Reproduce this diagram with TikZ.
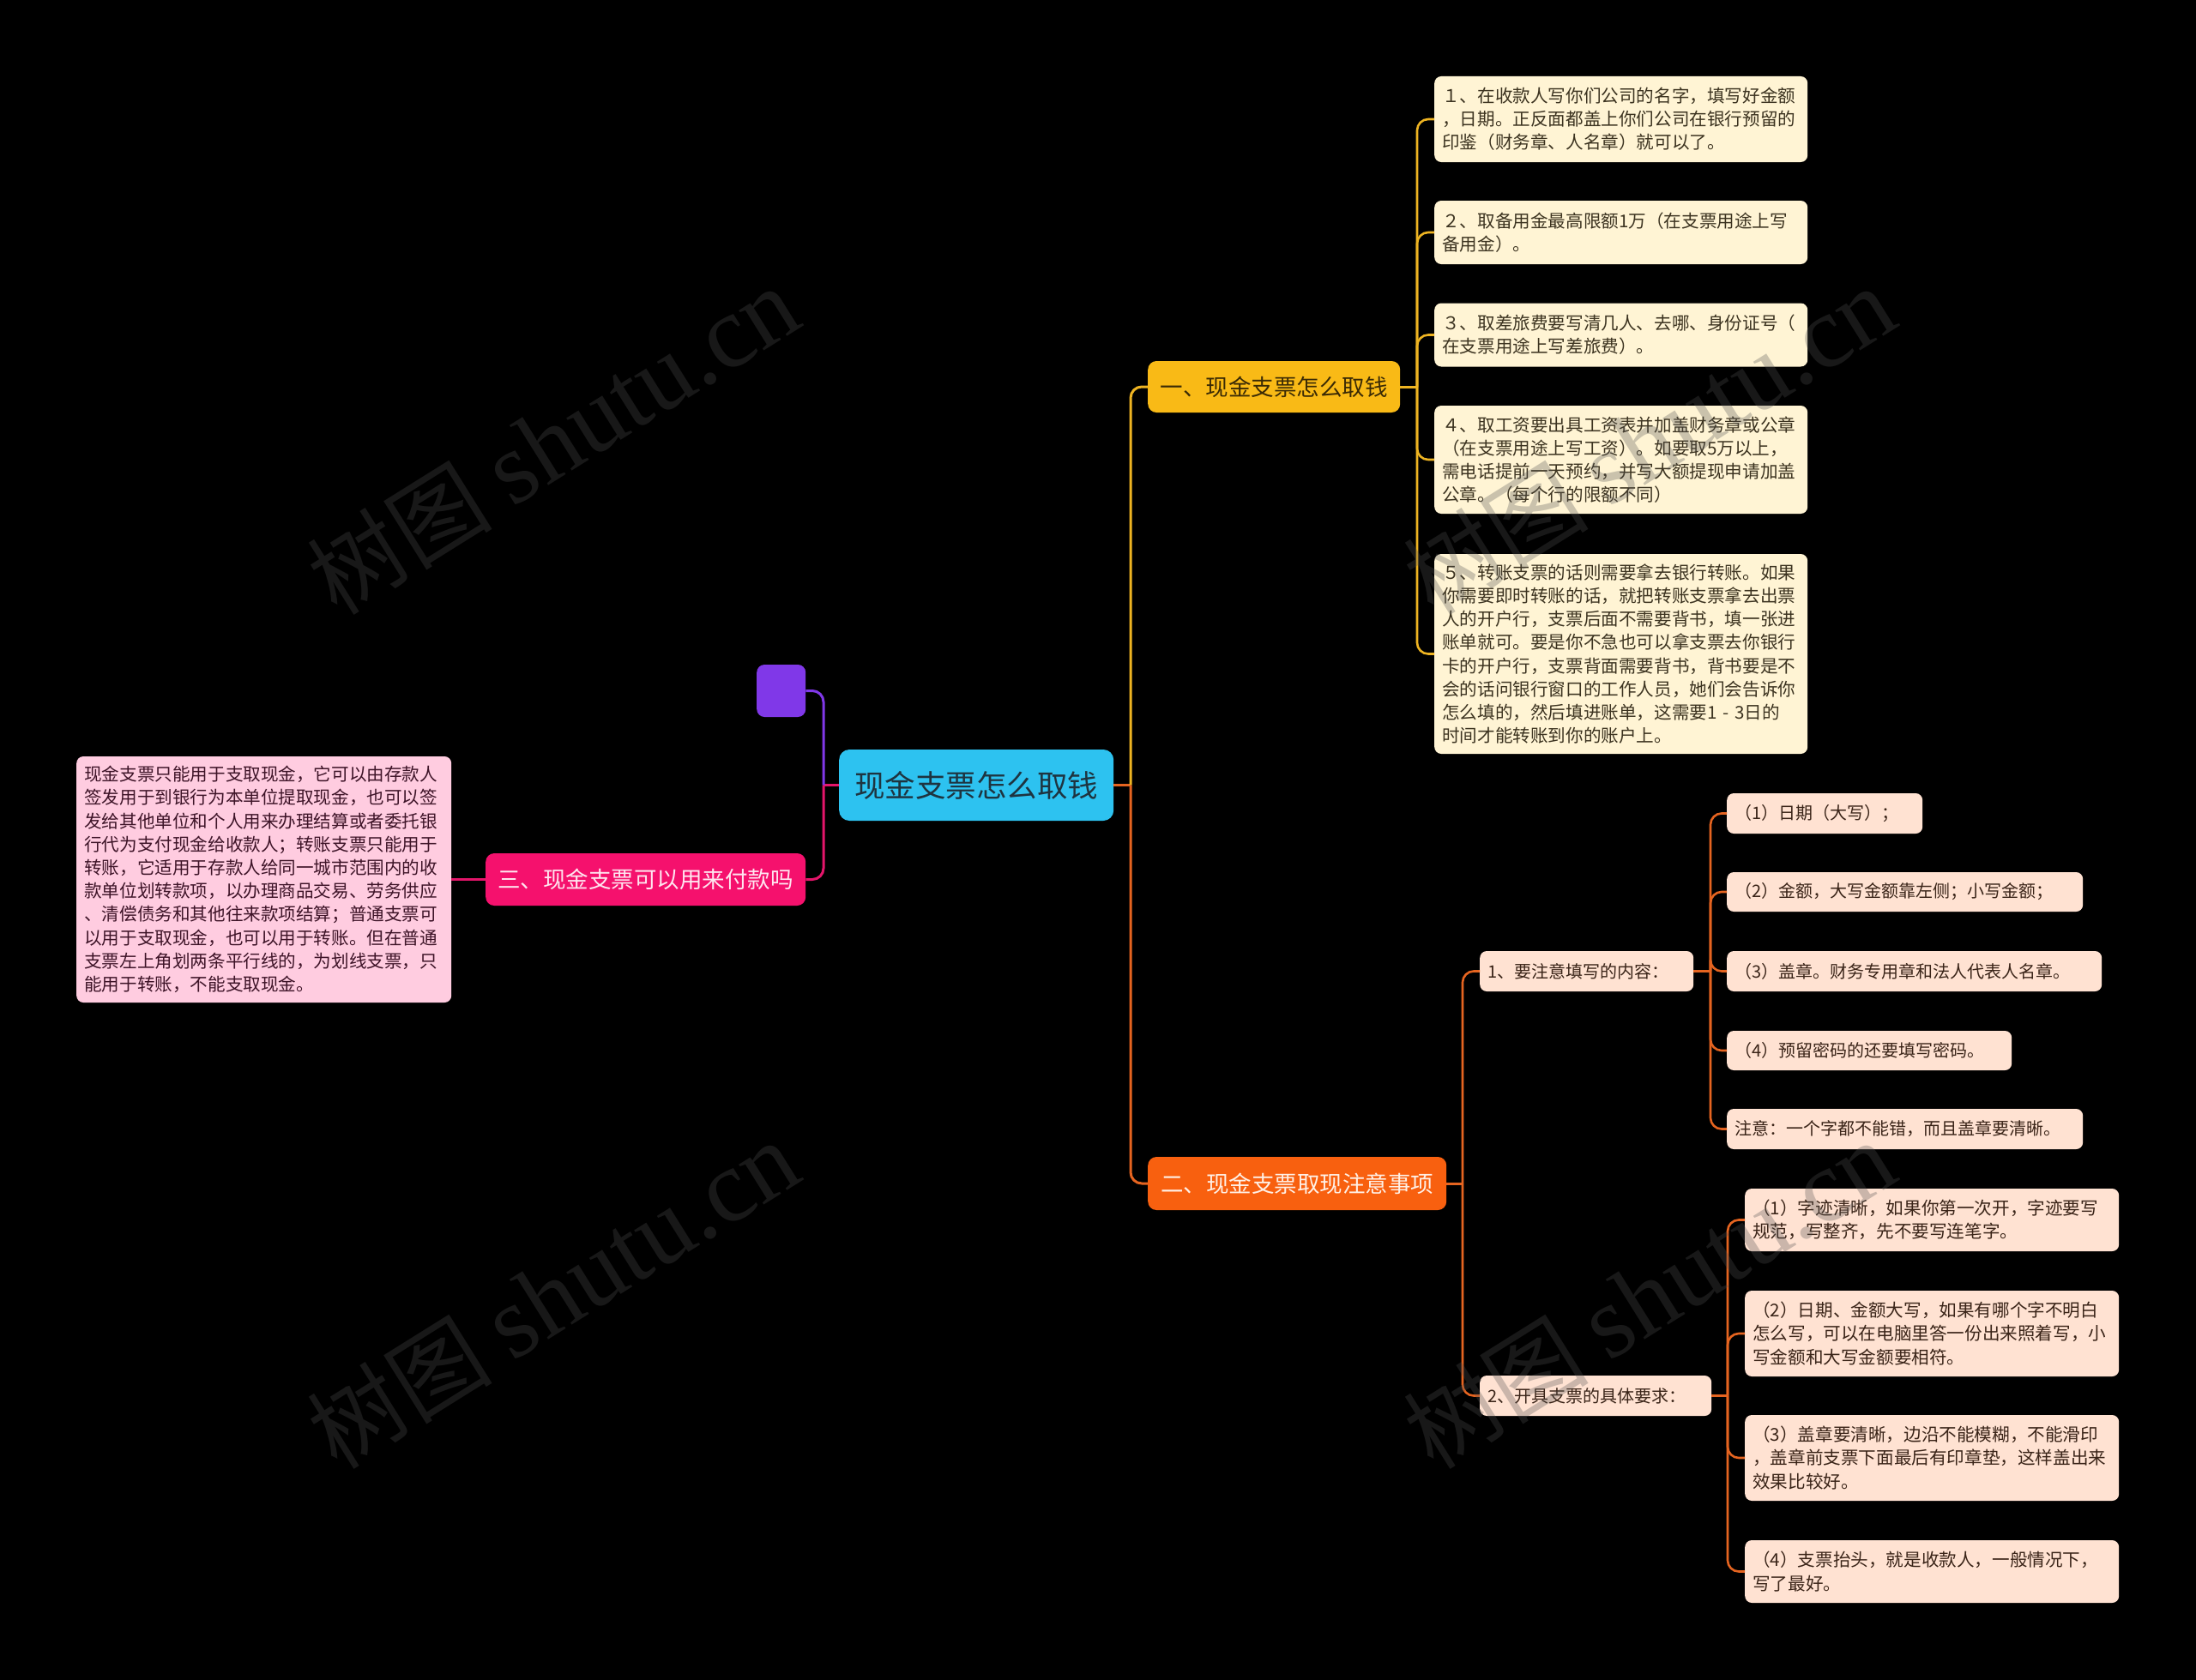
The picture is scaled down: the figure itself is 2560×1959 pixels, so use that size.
\documentclass[tikz,border=0pt]{standalone}
\usepackage{fontspec}
\setmainfont{Noto Sans CJK SC}
\newfontfamily\wmlatin{Liberation Serif}
\newfontfamily\wmcjk{Noto Sans CJK SC}
\definecolor{bgc}{HTML}{000000}
\definecolor{rootc}{HTML}{2DC2F0}
\definecolor{roottxt}{HTML}{1E3440}
\definecolor{purplec}{HTML}{8038E8}
\definecolor{pinkc}{HTML}{F5116D}
\definecolor{pinktxt}{HTML}{FFE6F0}
\definecolor{pinkline}{HTML}{E4156A}
\definecolor{pinkleafc}{HTML}{FFCCE0}
\definecolor{pinkleaftxt}{HTML}{3E1428}
\definecolor{yellowc}{HTML}{F9BA16}
\definecolor{yellowtxt}{HTML}{3A2A05}
\definecolor{yellowline}{HTML}{EEB422}
\definecolor{yleafc}{HTML}{FFF4D4}
\definecolor{yleaftxt}{HTML}{3C3320}
\definecolor{orangec}{HTML}{F8600F}
\definecolor{orangetxt}{HTML}{FFF0E6}
\definecolor{orangeline}{HTML}{E56420}
\definecolor{oleafc}{HTML}{FFE2D2}
\definecolor{oleaftxt}{HTML}{3A2418}
\definecolor{wmc}{HTML}{505050}
\newcommand\leaffont{\fontsize{20.6}{27.2}\selectfont}
\newcommand\oleaffont{\fontsize{20}{27.2}\selectfont}
\newcommand\branchfont{\fontsize{26.5}{30}\selectfont}
\newcommand\rootfont{\fontsize{35.5}{40}\selectfont}
\newcommand\wmtext{\wmcjk\fontsize{108}{118}\selectfont 树图\ \wmlatin\fontsize{120}{130}\selectfont shutu.cn}
\begin{document}
\begin{tikzpicture}[x=1pt,y=-1pt,
  boxbase/.style={anchor=west, inner ysep=0pt, inner xsep=9pt, align=left},
  yleaf/.style={boxbase, rounded corners=8pt, fill=yleafc, text=yleaftxt, font=\leaffont},
  pleaf/.style={boxbase, rounded corners=8pt, fill=pinkleafc, text=pinkleaftxt, font=\leaffont},
  oleaf/.style={boxbase, rounded corners=8pt, fill=oleafc, text=oleaftxt, font=\oleaffont},
  oleafb/.style={boxbase, rounded corners=8pt, fill=oleafc, text=oleaftxt, font=\leaffont},
  branchbox/.style={anchor=west, inner sep=0pt, align=center, rounded corners=10pt, font=\branchfont},
  conn/.style={line width=3pt, rounded corners=13pt},
  wm/.style={text=wmc, text opacity=0.3, rotate=32, inner sep=0pt}
]
\fill[bgc] (0,0) rectangle (2560,1959);
\useasboundingbox (0,0) rectangle (2560,1959);

% root and first-level nodes
\node[branchbox, rounded corners=12pt, fill=rootc, text=roottxt, font=\rootfont,
      minimum width=320pt, minimum height=83pt] (root) at (978,915.5) {现金支票怎么取钱};
\node[anchor=west, inner sep=0pt, fill=purplec, rounded corners=9pt,
      minimum width=57pt, minimum height=61pt] (purple) at (882,805.5) {};
\node[branchbox, fill=pinkc, text=pinktxt, minimum width=373pt, minimum height=61pt]
      (pinkb) at (566,1025.5) {三、现金支票可以用来付款吗};
\node[branchbox, fill=yellowc, text=yellowtxt, minimum width=294pt, minimum height=60pt]
      (yb) at (1338,451) {一、现金支票怎么取钱};
\node[branchbox, fill=orangec, text=orangetxt, minimum width=348pt, minimum height=62pt]
      (ob) at (1338,1380) {二、现金支票取现注意事项};

% pink leaf
\node[pleaf, text width=419pt, minimum height=287pt] (pleaf) at (89,1025.5)
{现金支票只能用于支取现金，它可以由存款人\\
签发用于到银行为本单位提取现金，也可以签\\
发给其他单位和个人用来办理结算或者委托银\\
行代为支付现金给收款人；转账支票只能用于\\
转账，它适用于存款人给同一城市范围内的收\\
款单位划转款项，以办理商品交易、劳务供应\\
、清偿债务和其他往来款项结算；普通支票可\\
以用于支取现金，也可以用于转账。但在普通\\
支票左上角划两条平行线的，为划线支票，只\\
能用于转账，不能支取现金。};

% yellow leaves
\node[yleaf, text width=417pt, minimum height=100pt] (y1) at (1672,139)
{１、在收款人写你们公司的名字，填写好金额\\
，日期。正反面都盖上你们公司在银行预留的\\
印鉴（财务章、人名章）就可以了。};
\node[yleaf, text width=417pt, minimum height=74pt] (y2) at (1672,271)
{２、取备用金最高限额1万（在支票用途上写\\
备用金）。};
\node[yleaf, text width=417pt, minimum height=74pt] (y3) at (1672,390.5)
{３、取差旅费要写清几人、去哪、身份证号（\\
在支票用途上写差旅费）。};
\node[yleaf, text width=417pt, minimum height=126pt] (y4) at (1672,536)
{４、取工资要出具工资表并加盖财务章或公章\\
（在支票用途上写工资）。如要取5万以上，\\
需电话提前一天预约，并写大额提现申请加盖\\
公章。（每个行的限额不同）};
\node[yleaf, text width=417pt, minimum height=233pt] (y5) at (1672,762.5)
{５、转账支票的话则需要拿去银行转账。如果\\
你需要即时转账的话，就把转账支票拿去出票\\
人的开户行，支票后面不需要背书，填一张进\\
账单就可。要是你不急也可以拿支票去你银行\\
卡的开户行，支票背面需要背书，背书要是不\\
会的话问银行窗口的工作人员，她们会告诉你\\
怎么填的，然后填进账单，这需要1 - 3日的\\
时间才能转账到你的账户上。};

% orange second level
\node[oleaf, text width=231pt, minimum height=47pt] (o1) at (1725,1132.5) {1、要注意填写的内容：};
\node[oleaf, text width=252pt, minimum height=47pt] (o2) at (1725,1627.5) {2、开具支票的具体要求：};

% orange group 1 leaves
\node[oleaf, text width=210pt, minimum height=47pt] (o11) at (2013,948.5) {（1）日期（大写）；};
\node[oleaf, text width=397pt, minimum height=46pt] (o12) at (2013,1040) {（2）金额，大写金额靠左侧；小写金额；};
\node[oleaf, text width=419pt, minimum height=47pt] (o13) at (2013,1132.5) {（3）盖章。财务专用章和法人代表人名章。};
\node[oleaf, text width=314pt, minimum height=46pt] (o14) at (2013,1225) {（4）预留密码的还要填写密码。};
\node[oleaf, text width=397pt, minimum height=47pt] (o15) at (2013,1316.5) {注意：一个字都不能错，而且盖章要清晰。};

% orange group 2 leaves
\node[oleafb, text width=418pt, minimum height=73pt] (o21) at (2034,1422.5)
{（1）字迹清晰，如果你第一次开，字迹要写\\
规范，写整齐，先不要写连笔字。};
\node[oleafb, text width=418pt, minimum height=100pt] (o22) at (2034,1555)
{（2）日期、金额大写，如果有哪个字不明白\\
怎么写，可以在电脑里答一份出来照着写，小\\
写金额和大写金额要相符。};
\node[oleafb, text width=418pt, minimum height=100pt] (o23) at (2034,1700)
{（3）盖章要清晰，边沿不能模糊，不能滑印\\
，盖章前支票下面最后有印章垫，这样盖出来\\
效果比较好。};
\node[oleafb, text width=418pt, minimum height=73pt] (o24) at (2034,1832.5)
{（4）支票抬头，就是收款人，一般情况下，\\
写了最好。};

% junction points
\coordinate (jL) at (960,915.5);
\coordinate (jR) at (1318,915.5);
\coordinate (jY) at (1652,451);
\coordinate (jO) at (1705,1380);
\coordinate (jO1) at (1994,1132.5);
\coordinate (jO2) at (2014,1627.5);

% connectors left
\draw[conn, draw=pinkline] (root.west) -- (jL);
\draw[conn, draw=purplec] (jL) |- (purple.east);
\draw[conn, draw=pinkline] (jL) |- (pinkb.east);
\draw[conn, draw=pinkline] (pinkb.west) -- (pleaf.east);

% connectors right
\draw[conn, draw=orangeline] (root.east) -- (jR);
\draw[conn, draw=yellowline] (jR) |- (yb.west);
\draw[conn, draw=orangeline] (jR) |- (ob.west);
\draw[conn, draw=yellowline] (yb.east) -- (jY);
\foreach \n in {y1,y2,y3,y4,y5} \draw[conn, line width=2.6pt, draw=yellowline] (jY) |- (\n.west);
\draw[conn, draw=orangeline] (ob.east) -- (jO);
\draw[conn, line width=2.6pt, draw=orangeline] (jO) |- (o1.west);
\draw[conn, line width=2.6pt, draw=orangeline] (jO) |- (o2.west);
\draw[conn, line width=2.6pt, draw=orangeline] (o1.east) -- (jO1);
\foreach \n in {o11,o12,o13,o14,o15} \draw[conn, line width=2.6pt, draw=orangeline] (jO1) |- (\n.west);
\draw[conn, line width=2.6pt, draw=orangeline] (o2.east) -- (jO2);
\foreach \n in {o21,o22,o23,o24} \draw[conn, line width=2.6pt, draw=orangeline] (jO2) |- (\n.west);

% watermarks
\node[wm] (wm1) at (645,514) {\wmtext};
\node[wm] (wm2) at (645,1510) {\wmtext};
\node[wm] (wm3) at (1923,514) {\wmtext};
\node[wm] (wm4) at (1923,1510) {\wmtext};
\end{tikzpicture}
\end{document}
